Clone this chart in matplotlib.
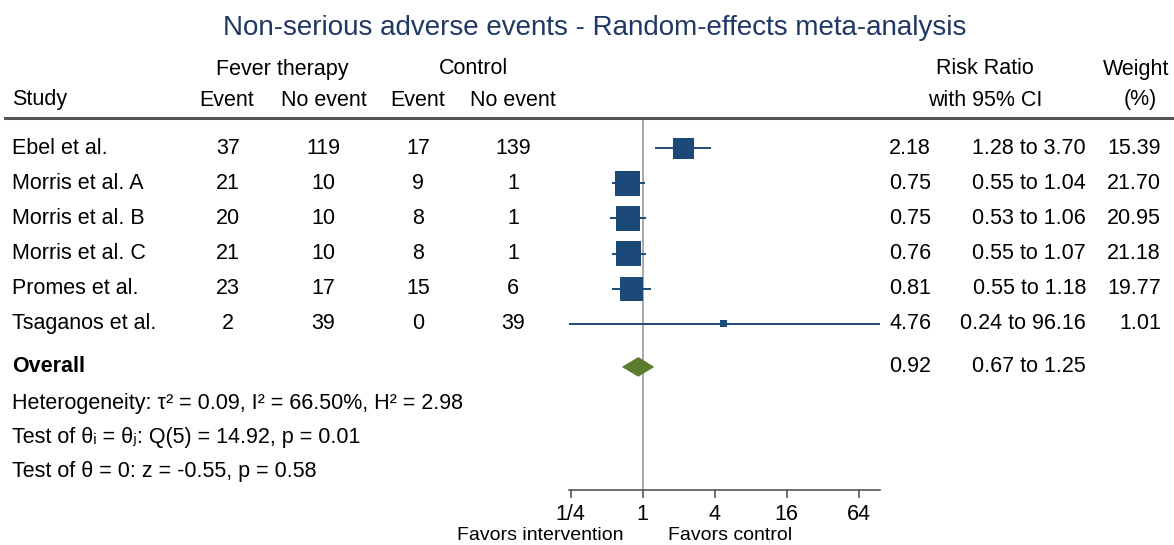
import numpy as np
import matplotlib
matplotlib.use("Agg")
from matplotlib import pyplot as plt
from matplotlib.lines import Line2D
from matplotlib.transforms import blended_transform_factory

plt.rcParams["font.family"] = ["Liberation Sans", "DejaVu Sans"]

studies = ["Ebel et al.", "Morris et al. A", "Morris et al. B",
           "Morris et al. C", "Promes et al.", "Tsaganos et al."]
fever_event = [37, 21, 20, 21, 23, 2]
fever_no_event = [119, 10, 10, 10, 17, 39]
ctrl_event = [17, 9, 8, 8, 15, 0]
ctrl_no_event = [139, 1, 1, 1, 6, 39]
rr = [2.18, 0.75, 0.75, 0.76, 0.81, 4.76]
ci_lo = [1.28, 0.55, 0.53, 0.55, 0.55, 0.24]
ci_hi = [3.70, 1.04, 1.06, 1.07, 1.18, 96.16]
weight = [15.39, 21.70, 20.95, 21.18, 19.77, 1.01]
overall_rr, overall_lo, overall_hi = 0.92, 0.67, 1.25
stats_lines = [
    "Heterogeneity: τ² = 0.09, I² = 66.50%, H² = 2.98",
    "Test of θᵢ = θⱼ: Q(5) = 14.92, p = 0.01",
    "Test of θ = 0: z = -0.55, p = 0.58",
]
tick_vals = [0.25, 1, 4, 16, 64]
tick_labels = ["1/4", "1", "4", "16", "64"]

W, H = 1174, 545
navy = "#1c4a78"
green = "#5b7b2f"
fs = 15.5

fig = plt.figure(figsize=(W / 100, H / 100), dpi=100)
ax = fig.add_axes([568.5 / W, 1 - 490 / H, 311.4 / W, 370 / H])

ys = np.arange(len(studies))
y_overall = 6.22
row_stats = [7.27, 8.24, 9.2]

# study CIs and squares (area ~ weight, small floor so tiny studies stay visible)
ax.hlines(ys, ci_lo, ci_hi, color=navy, lw=1.4, zorder=2)
side_pt = np.maximum(5.3 * np.sqrt(weight), 7) * 0.72
ax.scatter(rr, ys, marker="s", s=side_pt ** 2, color=navy, lw=0, zorder=3)

# overall diamond
ax.fill([overall_lo, overall_rr, overall_hi, overall_rr],
        [y_overall, y_overall - 0.28, y_overall, y_overall + 0.28],
        color=green, lw=0, zorder=3)

ax.axvline(1, color="#9a9a9a", lw=1.2, zorder=1)

ax.set_xscale("log", base=2)
ax.set_xlim(ci_lo[-1], ci_hi[-1])
ax.set_ylim(9.72, -0.8)
ax.set_xticks(tick_vals)
ax.set_xticklabels(tick_labels, fontsize=fs)
ax.xaxis.set_minor_locator(plt.NullLocator())
ax.set_yticks([])
for s in ["top", "left", "right"]:
    ax.spines[s].set_visible(False)
ax.spines["bottom"].set_color("#555555")
ax.spines["bottom"].set_linewidth(1.2)
ax.tick_params(axis="x", length=6, width=1.2, color="#555555", pad=4)
ax.patch.set_alpha(0)

# text columns
tr = blended_transform_factory(fig.transFigure, ax.transData)


def fx(px):
    return px / W


for i, y in enumerate(ys):
    ax.text(fx(12), y, studies[i], transform=tr, fontsize=fs, va="center")
    ax.text(fx(228), y, str(fever_event[i]), transform=tr, fontsize=fs, va="center", ha="center")
    ax.text(fx(323), y, str(fever_no_event[i]), transform=tr, fontsize=fs, va="center", ha="center")
    ax.text(fx(418), y, str(ctrl_event[i]), transform=tr, fontsize=fs, va="center", ha="center")
    ax.text(fx(513), y, str(ctrl_no_event[i]), transform=tr, fontsize=fs, va="center", ha="center")
    ax.text(fx(931), y, f"{rr[i]:.2f}", transform=tr, fontsize=fs, va="center", ha="right")
    ax.text(fx(1086), y, f"{ci_lo[i]:.2f} to {ci_hi[i]:.2f}", transform=tr,
            fontsize=fs, va="center", ha="right")
    ax.text(fx(1161), y, f"{weight[i]:.2f}", transform=tr, fontsize=fs, va="center", ha="right")

ax.text(fx(12), y_overall, "Overall", transform=tr, fontsize=fs, va="center", weight="bold")
ax.text(fx(931), y_overall, f"{overall_rr:.2f}", transform=tr, fontsize=fs, va="center", ha="right")
ax.text(fx(1086), y_overall, f"{overall_lo:.2f} to {overall_hi:.2f}", transform=tr,
        fontsize=fs, va="center", ha="right")
for y, line in zip(row_stats, stats_lines):
    ax.text(fx(12), y, line, transform=tr, fontsize=fs, va="center")


# header
def ftext(px, py, s, size=fs, **kw):
    fig.text(px / W, 1 - py / H, s, fontsize=size, va="center", **kw)


fig.text(595 / W, 1 - 28 / H, "Non-serious adverse events - Random-effects meta-analysis",
         fontsize=20, color="#1f3864", ha="center", va="center")
ftext(282, 69, "Fever therapy", ha="center")
ftext(474, 69, "Control", ha="center")
ftext(985, 69, "Risk Ratio", ha="center")
ftext(1136, 69, "Weight", ha="center")
ftext(12, 100, "Study")
ftext(227, 100, "Event", ha="center")
ftext(324, 100, "No event", ha="center")
ftext(418, 100, "Event", ha="center")
ftext(513, 100, "No event", ha="center")
ftext(985, 100, "with 95% CI", ha="center")
ftext(1140, 100, "(%)", ha="center")
fig.add_artist(Line2D([5 / W, 1], [1 - 118 / H] * 2, color="#555555", lw=2.2))

ftext(540, 535, "Favors intervention", size=14, ha="center")
ftext(730, 535, "Favors control", size=14, ha="center")

fig.savefig("out.png", dpi=100)
